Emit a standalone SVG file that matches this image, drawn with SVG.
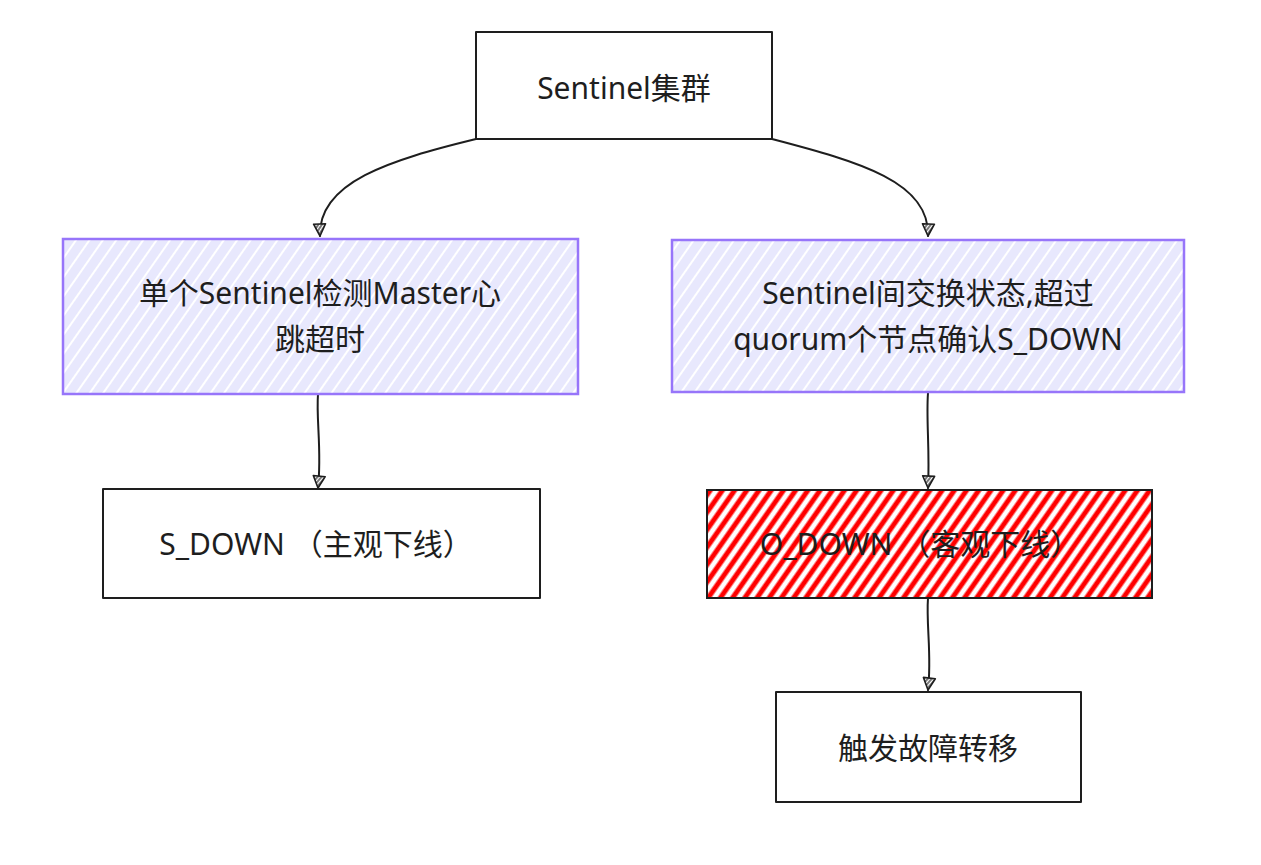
<svg xmlns="http://www.w3.org/2000/svg" width="1261" height="865" viewBox="0 0 1261 865">
<defs>
<style>
.box{stroke:#1e1e1e;stroke-width:2;fill:#ffffff;stroke-linejoin:round}
.purple{stroke:#9775fa;stroke-width:2.5;fill:url(#hatchPurple)}
.red{stroke:#1e1e1e;stroke-width:2;fill:url(#hatchRed)}
.lbl{font-family:"Noto Sans","Noto Sans CJK SC",sans-serif;font-size:30px;fill:#1e1e1e;text-anchor:middle;dominant-baseline:central}
.conn{fill:none;stroke:#1e1e1e;stroke-width:2;stroke-linecap:round}
</style>
<pattern id="hatchPurple" width="11" height="11" patternUnits="userSpaceOnUse" patternTransform="rotate(35)">
<rect width="11" height="11" fill="#e8e8fd"/>
<line x1="2" y1="0" x2="2" y2="11" stroke="#ffffff" stroke-width="2"/>
</pattern>
<pattern id="hatchRed" width="10" height="10" patternUnits="userSpaceOnUse" patternTransform="rotate(35)">
<rect width="10" height="10" fill="#ffffff"/>
<line x1="3" y1="0" x2="3" y2="10" stroke="#ff0000" stroke-width="5"/>
</pattern>
<pattern id="hatchArrow" width="3" height="3" patternUnits="userSpaceOnUse" patternTransform="rotate(35)">
<rect width="3" height="3" fill="#ffffff"/>
<line x1="1" y1="0" x2="1" y2="3" stroke="#1e1e1e" stroke-width="1.2"/>
</pattern>
<marker id="arr" viewBox="0 0 16 16" refX="14" refY="8" markerWidth="16" markerHeight="16" markerUnits="userSpaceOnUse" orient="auto">
<path d="M2,2 L14,2 L8,14 Z" fill="url(#hatchArrow)" stroke="#1e1e1e" stroke-width="1.6" stroke-linejoin="round" transform="rotate(-90 8 8)"/>
</marker>
</defs>
<rect width="1261" height="865" fill="#ffffff"/>

<g id="connectors">
<path class="conn" d="M476,139 C390,160 318,182 320,236" marker-end="url(#arr)"/>
<path class="conn" d="M772,139 C860,162 930,182 928,236" marker-end="url(#arr)"/>
<path class="conn" d="M318,394 C316,420 322,450 318,488" marker-end="url(#arr)"/>
<path class="conn" d="M928,393 C926,420 930,450 928,488" marker-end="url(#arr)"/>
<path class="conn" d="M928,598 C926,625 932,655 928,690" marker-end="url(#arr)"/>
</g>

<g id="node-sentinel-cluster">
<rect class="box" x="476" y="32" width="296" height="107"/>
<text class="lbl" x="624" y="87">Sentinel集群</text>
</g>

<g id="node-single-check">
<rect class="purple" x="63" y="239" width="515" height="155"/>
<text class="lbl" x="320" y="292">单个Sentinel检测Master心</text>
<text class="lbl" x="320" y="338">跳超时</text>
</g>

<g id="node-exchange">
<rect class="purple" x="672" y="240" width="512" height="152"/>
<text class="lbl" x="928" y="292">Sentinel间交换状态,超过</text>
<text class="lbl" x="928" y="338">quorum个节点确认S_DOWN</text>
</g>

<g id="node-sdown">
<rect class="box" x="103" y="489" width="437" height="109"/>
<text class="lbl" x="316" y="543">S_DOWN （主观下线）</text>
</g>

<g id="node-odown">
<rect class="red" x="707" y="490" width="445" height="108"/>
<text class="lbl" x="920" y="543">O_DOWN （客观下线）</text>
</g>

<g id="node-failover">
<rect class="box" x="776" y="692" width="305" height="110"/>
<text class="lbl" x="928" y="747">触发故障转移</text>
</g>
</svg>
